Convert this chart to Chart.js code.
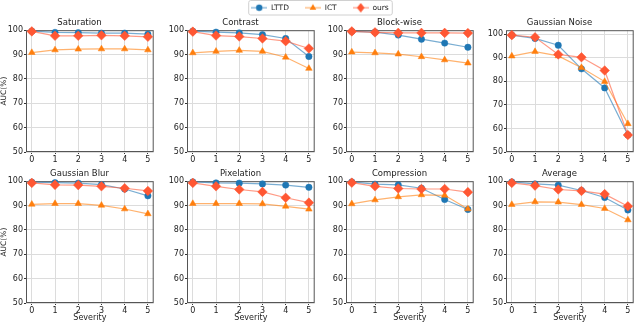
<!DOCTYPE html>
<html>
<head>
<meta charset="utf-8">
<script src="https://cdn.jsdelivr.net/npm/chart.js@4.4.1/dist/chart.umd.min.js"></script>
<style>
  html, body { margin: 0; padding: 0; background: #fff; }
  body { width: 640px; height: 323px; position: relative; overflow: hidden; }
  canvas { position: absolute; }
</style>
</head>
<body>
<script>
// eixos / categorias
const severities = [0, 1, 2, 3, 4, 5];
const yTicks = [50, 60, 70, 80, 90, 100];
const titles = ['Saturation', 'Contrast', 'Block-wise', 'Gaussian Noise',
                'Gaussian Blur', 'Pixelation', 'Compression', 'Average'];
const methods = ['LTTD', 'ICT', 'ours'];

// valores (AUC %)
const saturationLTTD = [99.6, 99.1, 99.0, 98.8, 98.8, 98.4];
const saturationICT  = [90.8, 91.9, 92.2, 92.3, 92.3, 91.9];
const saturationOurs = [99.5, 97.7, 97.7, 97.9, 97.7, 97.3];

const contrastLTTD = [99.6, 99.2, 98.9, 98.2, 96.6, 89.2];
const contrastICT  = [90.7, 91.3, 91.7, 91.3, 88.9, 84.3];
const contrastOurs = [99.4, 97.8, 97.4, 96.6, 95.5, 92.5];

const blockLTTD = [99.5, 99.2, 98.0, 96.3, 94.7, 93.0];
const blockICT  = [91.0, 90.7, 90.2, 89.1, 87.8, 86.5];
const blockOurs = [99.5, 99.1, 98.9, 98.9, 98.9, 98.8];

const noiseLTTD = [99.6, 98.2, 95.3, 85.3, 77.2, 57.2];
const noiseICT  = [90.7, 92.6, 90.8, 85.8, 79.9, 62.0];
const noiseOurs = [99.6, 98.7, 91.4, 90.2, 84.6, 57.2];

const blurLTTD = [99.6, 99.4, 99.2, 98.6, 96.8, 94.0];
const blurICT  = [90.5, 90.8, 90.8, 90.1, 88.6, 86.6];
const blurOurs = [99.3, 98.5, 98.4, 97.9, 97.1, 96.0];

const pixelLTTD = [99.7, 99.3, 99.2, 98.9, 98.4, 97.5];
const pixelICT  = [90.8, 90.8, 90.8, 90.7, 89.7, 88.5];
const pixelOurs = [99.3, 97.9, 96.6, 95.6, 93.2, 91.2];

const compLTTD = [99.7, 98.8, 98.5, 97.1, 92.5, 88.4];
const compICT  = [90.7, 92.3, 93.6, 94.4, 94.2, 88.6];
const compOurs = [99.4, 97.9, 97.0, 96.8, 96.8, 95.5];

const avgLTTD = [99.7, 98.9, 98.4, 96.2, 93.3, 88.2];
const avgICT  = [90.4, 91.5, 91.4, 90.4, 88.8, 84.1];
const avgOurs = [99.3, 98.2, 96.6, 96.0, 94.7, 89.7];

const panelData = [
  [saturationLTTD, saturationICT, saturationOurs],
  [contrastLTTD, contrastICT, contrastOurs],
  [blockLTTD, blockICT, blockOurs],
  [noiseLTTD, noiseICT, noiseOurs],
  [blurLTTD, blurICT, blurOurs],
  [pixelLTTD, pixelICT, pixelOurs],
  [compLTTD, compICT, compOurs],
  [avgLTTD, avgICT, avgOurs]
];

// estilo de cada metodo
const markerColors = ['#1f77b4', '#ff7f0e', '#ff5733'];
const lineColors = ['rgba(31,119,180,0.6)', 'rgba(255,127,14,0.6)', 'rgba(255,87,51,0.6)'];
const markerStyles = ['circle', 'triangle', 'rectRot'];
const markerSizes = [3.2, 3.8, 4.8];

Chart.defaults.font.family = '"DejaVu Sans", sans-serif';
Chart.defaults.color = '#222';

// posicao das areas de plot
const colLeft = [26, 187, 346, 506];
const rowTop = [30, 181];
const plotW = 133, plotH = 122;
const YW = 26, TH = 16;

// moldura (spines) em volta da area do grafico
const moldura = {
  id: 'moldura',
  beforeDatasetsDraw(chart) {
    const a = chart.chartArea, ctx = chart.ctx;
    ctx.save();
    ctx.strokeStyle = '#555';
    ctx.lineWidth = 1;
    ctx.strokeRect(a.left + 0.5, a.top + 0.5, a.right - a.left - 1, a.bottom - a.top - 1);
    ctx.restore();
  }
};

function novoCanvas(left, top, w, h) {
  const c = document.createElement('canvas');
  c.width = w; c.height = h;
  c.style.left = left + 'px'; c.style.top = top + 'px';
  c.style.width = w + 'px'; c.style.height = h + 'px';
  document.body.appendChild(c);
  return c;
}

titles.forEach((title, i) => {
  const row = Math.floor(i / 4), col = i % 4;
  const XH = row === 1 ? 20 : 14;
  const canvas = novoCanvas(colLeft[col] - YW, rowTop[row] - TH, YW + plotW, TH + plotH + XH);
  const yMax = title === 'Gaussian Noise' ? 101.7 : 100;

  // ours primeiro para ficar por cima (chart.js desenha o indice 0 por ultimo)
  const datasets = [2, 1, 0].map(m => ({
    label: methods[m],
    data: severities.map((s, k) => ({ x: s, y: panelData[i][m][k] })),
    borderColor: lineColors[m],
    borderWidth: 1.2,
    pointStyle: markerStyles[m],
    pointRadius: markerSizes[m],
    pointBackgroundColor: markerColors[m],
    pointBorderColor: markerColors[m],
    pointBorderWidth: 0.5,
    tension: 0,
    clip: false
  }));

  new Chart(canvas, {
    type: 'line',
    data: { datasets },
    options: {
      responsive: false,
      animation: false,
      layout: { padding: 0 },
      plugins: {
        legend: { display: false },
        tooltip: { enabled: false },
        title: {
          display: true, text: title, color: '#222',
          font: { size: 8.5, weight: 'normal' },
          padding: { top: 4, bottom: 2 }
        }
      },
      scales: {
        x: {
          type: 'linear', min: -0.25, max: 5.25,
          afterBuildTicks: s => { s.ticks = severities.map(v => ({ value: v })); },
          afterFit: s => { s.height = XH; },
          grid: { color: '#dcdcdc', tickColor: '#333', tickLength: 2 },
          border: { display: false },
          ticks: { font: { size: 8 }, color: '#222', padding: 1, maxRotation: 0 },
          title: { display: row === 1, text: 'Severity', font: { size: 8 }, color: '#222', padding: 0 }
        },
        y: {
          min: 50, max: yMax,
          afterBuildTicks: s => { s.ticks = yTicks.map(v => ({ value: v })); },
          afterFit: s => { s.width = YW; },
          grid: { color: '#dcdcdc', tickColor: '#333', tickLength: 2 },
          border: { display: false },
          ticks: { font: { size: 8 }, color: '#222', padding: 1 },
          title: { display: col === 0, text: 'AUC(%)', font: { size: 7.5 }, color: '#222', padding: 0 }
        }
      }
    },
    plugins: [moldura]
  });
});

// LEGENDA (canvas separado no topo, transparente)
function iconeLegenda(m) {
  const c = document.createElement('canvas');
  c.width = 16; c.height = 10;
  const ctx = c.getContext('2d');
  ctx.strokeStyle = lineColors[m];
  ctx.lineWidth = 1.2;
  ctx.beginPath(); ctx.moveTo(0, 5); ctx.lineTo(16, 5); ctx.stroke();
  ctx.fillStyle = markerColors[m];
  const r = markerSizes[m];
  ctx.beginPath();
  if (markerStyles[m] === 'circle') {
    ctx.arc(8, 5, r, 0, Math.PI * 2);
  } else if (markerStyles[m] === 'triangle') {
    ctx.moveTo(8, 5 - r); ctx.lineTo(8 + r * 0.87, 5 + r * 0.5); ctx.lineTo(8 - r * 0.87, 5 + r * 0.5);
  } else {
    ctx.moveTo(8, 5 - r); ctx.lineTo(8 + r * 0.8, 5); ctx.lineTo(8, 5 + r); ctx.lineTo(8 - r * 0.8, 5);
  }
  ctx.closePath(); ctx.fill();
  return c;
}
const icones = methods.map((_, m) => iconeLegenda(m));

// caixinha em volta dos itens da legenda
const caixaLegenda = {
  id: 'caixaLegenda',
  beforeDraw(chart) {
    const boxes = chart.legend.legendHitBoxes;
    if (!boxes || !boxes.length) return;
    const last = boxes[boxes.length - 1];
    const x0 = boxes[0].left - 3;
    const x1 = last.left + last.width + 3;
    const y0 = boxes[0].top - 4;
    const ctx = chart.ctx;
    ctx.save();
    ctx.fillStyle = '#fff';
    ctx.strokeStyle = '#d0d0d0';
    ctx.lineWidth = 1;
    ctx.beginPath();
    ctx.roundRect(x0 + 0.5, y0 + 0.5, x1 - x0, boxes[0].height + 7, 2);
    ctx.fill();
    ctx.stroke();
    ctx.restore();
  }
};

const legendCanvas = novoCanvas(0, 0, 640, 60);
const legendChart = new Chart(legendCanvas, {
  type: 'line',
  data: { datasets: methods.map(m => ({ label: m, data: [] })) },
  options: {
    responsive: false,
    animation: false,
    scales: { x: { display: false }, y: { display: false } },
    plugins: {
      tooltip: { enabled: false },
      legend: {
        position: 'top',
        padding: 3,
        labels: {
          usePointStyle: true,
          pointStyleWidth: 16,
          boxHeight: 8,
          padding: 16,
          font: { size: 7.5 },
          color: '#222',
          generateLabels: () => methods.map((m, k) => ({
            text: m, fillStyle: markerColors[k], strokeStyle: markerColors[k],
            fontColor: '#222', lineWidth: 0, pointStyle: icones[k], hidden: false, datasetIndex: k
          }))
        }
      }
    }
  },
  plugins: [caixaLegenda]
});

// sobe o canvas da legenda para a caixa encostar no topo da pagina
const hit = legendChart.legend.legendHitBoxes[0];
legendCanvas.style.top = (-(hit.top - 4)) + 'px';
</script>
</body>
</html>
